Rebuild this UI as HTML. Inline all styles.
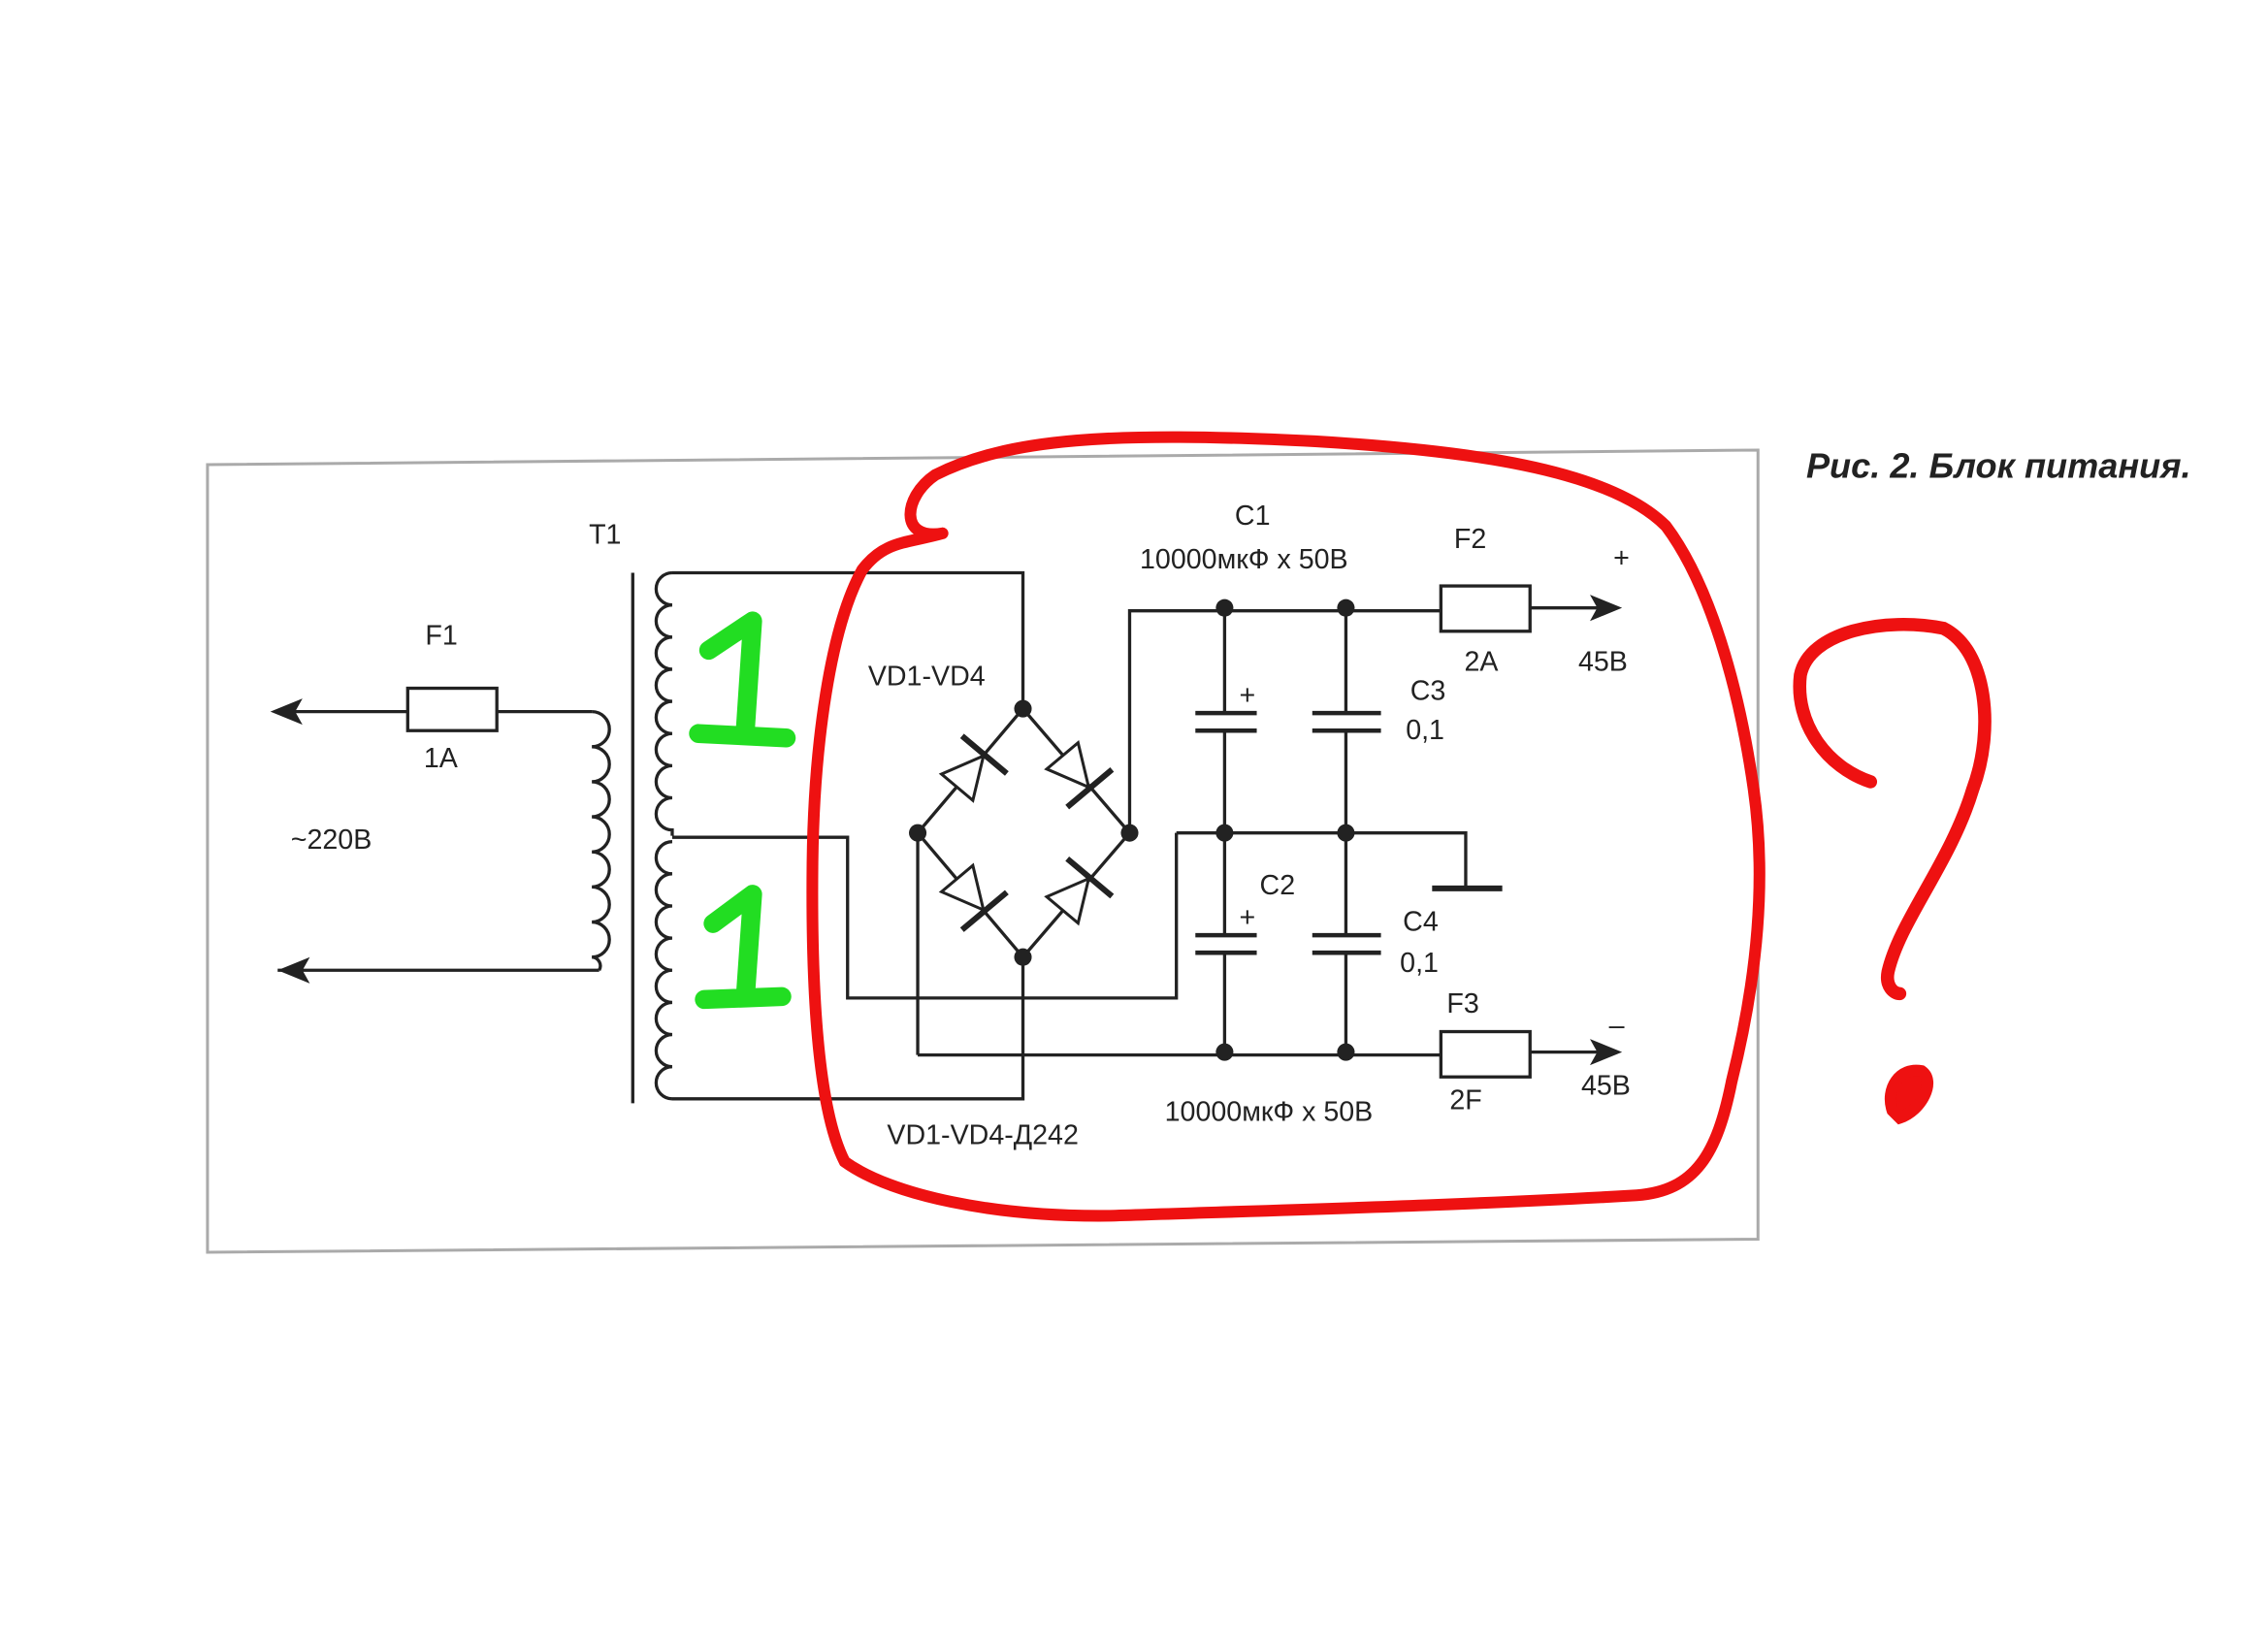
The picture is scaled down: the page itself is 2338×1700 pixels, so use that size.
<!DOCTYPE html>
<html><head><meta charset="utf-8"><style>
html,body{margin:0;padding:0;background:#fff;}
svg{display:block;}
text{font-family:"Liberation Sans","DejaVu Sans",sans-serif;fill:#222;}
</style></head><body>
<svg width="2338" height="1700" viewBox="0 0 1552 1128.5" preserveAspectRatio="none" xmlns="http://www.w3.org/2000/svg">
<rect x="0" y="0" width="1552" height="1129" fill="#fff"/>
<path d="M142 318 L1203 308 L1203 848 L142 857 Z" fill="none" stroke="#aaa" stroke-width="2"/>
<text x="1236" y="327" font-size="24" font-weight="bold" font-style="italic">Рис. 2. Блок питания.</text>
<g stroke="#222" stroke-width="2.2" fill="none">
<!-- primary -->
<line x1="190" y1="487" x2="279" y2="487"/>
<rect x="279" y="471" width="61" height="29"/>
<line x1="340" y1="487" x2="405" y2="487"/>
<line x1="190" y1="664" x2="410" y2="664"/>
<path d="M405 487 a12 12 0 0 1 0 24 a12 12 0 0 1 0 24 a12 12 0 0 1 0 24 a12 12 0 0 1 0 24 a12 12 0 0 1 0 24 a12 12 0 0 1 0 24 a12 12 0 0 1 0 24 a6 6 0 0 1 5 9"/>
<line x1="433" y1="392" x2="433" y2="755"/>
<!-- secondary -->
<path d="M460 392 a11 11 0 0 0 0 22 a11 11 0 0 0 0 22 a11 11 0 0 0 0 22 a11 11 0 0 0 0 22 a11 11 0 0 0 0 22 a11 11 0 0 0 0 22 a11 11 0 0 0 0 22 a11 11 0 0 0 0 22 l0 4"/>
<path d="M460 576 a11 11 0 0 0 0 22 a11 11 0 0 0 0 22 a11 11 0 0 0 0 22 a11 11 0 0 0 0 22 a11 11 0 0 0 0 22 a11 11 0 0 0 0 22 a11 11 0 0 0 0 22 a11 11 0 0 0 0 22"/>
<polyline points="460,392 700,392 700,485"/>
<polyline points="460,573 580,573 580,683 805,683 805,570"/>
<polyline points="460,752 700,752 700,655"/>
<!-- bridge -->
<polyline points="700,485 773,570 700,655 628,570 700,485"/>
<polyline points="628,570 628,722"/>
<polyline points="773,570 773,418 986,418"/>
<line x1="1047" y1="416" x2="1095" y2="416"/>
<rect x="986" y="401" width="61" height="31"/>
<polyline points="805,570 1003,570 1003,608"/>
<line x1="980" y1="608" x2="1028" y2="608" stroke-width="4"/>
<line x1="628" y1="722" x2="986" y2="722"/>
<rect x="986" y="706" width="61" height="31"/>
<line x1="1047" y1="720" x2="1095" y2="720"/>
<!-- caps -->
<line x1="838" y1="416" x2="838" y2="488"/><line x1="818" y1="488" x2="860" y2="488" stroke-width="3"/><line x1="818" y1="500" x2="860" y2="500" stroke-width="3"/><line x1="838" y1="500" x2="838" y2="640"/>
<line x1="818" y1="640" x2="860" y2="640" stroke-width="3"/><line x1="818" y1="652" x2="860" y2="652" stroke-width="3"/><line x1="838" y1="652" x2="838" y2="722"/>
<line x1="921" y1="416" x2="921" y2="488"/><line x1="898" y1="488" x2="945" y2="488" stroke-width="3"/><line x1="898" y1="500" x2="945" y2="500" stroke-width="3"/><line x1="921" y1="500" x2="921" y2="640"/>
<line x1="898" y1="640" x2="945" y2="640" stroke-width="3"/><line x1="898" y1="652" x2="945" y2="652" stroke-width="3"/><line x1="921" y1="652" x2="921" y2="722"/>
</g>
<g fill="#222">
<path d="M185 487 l22 -9 l-5 9 l5 9 z"/>
<path d="M190 664 l22 -9 l-5 9 l5 9 z"/>
<path d="M1110 416 l-22 -9 l5 9 l-5 9 z"/>
<path d="M1110 720 l-22 -9 l5 9 l-5 9 z"/>
<circle cx="700" cy="485" r="6"/><circle cx="773" cy="570" r="6"/><circle cx="700" cy="655" r="6"/><circle cx="628" cy="570" r="6"/>
<circle cx="838" cy="416" r="6"/><circle cx="921" cy="416" r="6"/><circle cx="838" cy="570" r="6"/><circle cx="921" cy="570" r="6"/><circle cx="838" cy="720" r="6"/><circle cx="921" cy="720" r="6"/>
</g>
<!-- diodes -->
<g stroke="#222" stroke-width="2" fill="#fff">
<g transform="translate(664,528) rotate(-50)"><path d="M-14 -14 L14 0 L-14 14 Z"/><line x1="15" y1="-20" x2="15" y2="20" stroke-width="4"/></g>
<g transform="translate(736,528) rotate(50)"><path d="M-14 -14 L14 0 L-14 14 Z"/><line x1="15" y1="-20" x2="15" y2="20" stroke-width="4"/></g>
<g transform="translate(664,612) rotate(50)"><path d="M-14 -14 L14 0 L-14 14 Z"/><line x1="15" y1="-20" x2="15" y2="20" stroke-width="4"/></g>
<g transform="translate(736,612) rotate(-50)"><path d="M-14 -14 L14 0 L-14 14 Z"/><line x1="15" y1="-20" x2="15" y2="20" stroke-width="4"/></g>
</g>
<g font-size="19">
<text x="403" y="372">T1</text>
<text x="291" y="441">F1</text>
<text x="290" y="525">1A</text>
<text x="199" y="581">~220В</text>
<text x="594" y="469">VD1-VD4</text>
<text x="607" y="783">VD1-VD4-Д242</text>
<text x="845" y="359">C1</text>
<text x="780" y="389">10000мкФ х 50В</text>
<text x="995" y="375">F2</text>
<text x="1104" y="388">+</text>
<text x="1002" y="459">2A</text>
<text x="1080" y="459">45В</text>
<text x="965" y="479">C3</text>
<text x="962" y="506">0,1</text>
<text x="848" y="482">+</text>
<text x="862" y="612">C2</text>
<text x="848" y="634">+</text>
<text x="960" y="637">C4</text>
<text x="958" y="665">0,1</text>
<text x="990" y="693">F3</text>
<text x="1101" y="708">–</text>
<text x="992" y="759">2F</text>
<text x="1082" y="749">45В</text>
<text x="797" y="767">10000мкФ х 50В</text>
</g>
<!-- green 1s -->
<g stroke="#22dd22" stroke-width="13" fill="none" stroke-linecap="round" stroke-linejoin="round">
<path d="M485 445 L515 425 L510 500 M478 502 L538 505"/>
<path d="M488 632 L515 612 L510 683 M482 684 L535 682"/>
</g>
<!-- red loop -->
<path d="M645 365 C615 370 618 340 640 325 C690 300 760 295 900 302 C1000 308 1100 320 1140 360 C1170 400 1190 470 1200 540 C1210 610 1200 680 1185 740 C1175 790 1160 815 1120 818 C1000 825 880 828 760 832 C680 833 610 818 578 795 C560 760 555 680 556 590 C557 510 568 430 590 390 C605 370 620 372 645 365" fill="none" stroke="#ee1111" stroke-width="8" stroke-linecap="round"/>
<path d="M1280 535 C1250 525 1228 495 1232 462 C1238 432 1290 422 1330 430 C1360 445 1365 500 1350 540 C1335 590 1300 630 1292 665 C1290 675 1296 680 1300 680" fill="none" stroke="#ee1111" stroke-width="9" stroke-linecap="round"/>
<path d="M1295 760 C1290 745 1300 730 1315 733 C1325 740 1315 760 1300 765 Z" fill="#ee1111" stroke="#ee1111" stroke-width="8"/>
</svg>
</body></html>
